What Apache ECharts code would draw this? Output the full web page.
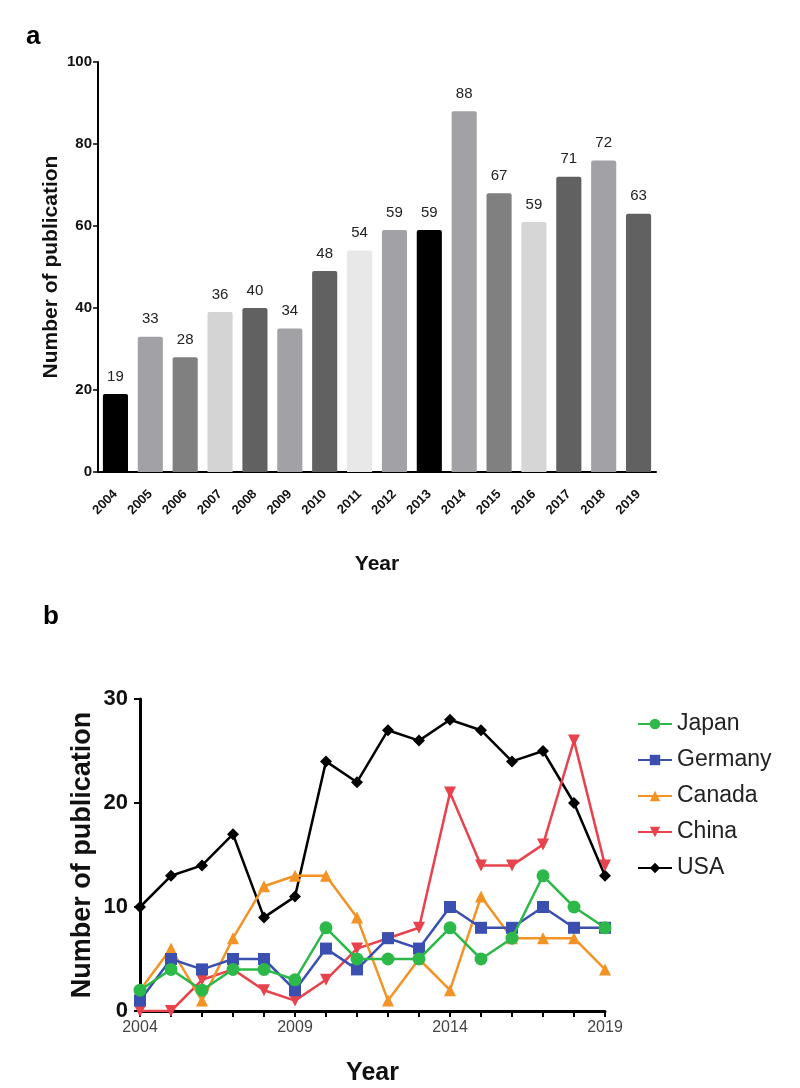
<!DOCTYPE html>
<html>
<head>
<meta charset="utf-8">
<script src="https://cdn.jsdelivr.net/npm/echarts@6/dist/echarts.min.js"></script>
<style>
html,body{margin:0;padding:0;background:#fff;}
#chart{width:800px;height:1088px;}
</style>
</head>
<body>
<div id="chart"></div>
<script>
// ---- Panel a data ----
const years = ['2004','2005','2006','2007','2008','2009','2010','2011','2012','2013','2014','2015','2016','2017','2018','2019'];
const barHeights = [19, 33, 28, 39, 40, 35, 49, 54, 59, 59, 88, 68, 61, 72, 76, 63];
const barLabels = ['19','33','28','36','40','34','48','54','59','59','88','67','59','71','72','63'];
const barColors = ['#000000','#a2a2a6','#808080','#d4d4d4','#616161','#a2a2a6','#616161','#e8e8e8','#a2a2a6','#000000','#a2a2a6','#808080','#d6d6d6','#616161','#a2a2a6','#616161'];

// ---- Panel b data ----
const lineYears = [2004,2005,2006,2007,2008,2009,2010,2011,2012,2013,2014,2015,2016,2017,2018,2019];
const japan   = [2, 4, 2, 4, 4, 3, 8, 5, 5, 5, 8, 5, 7, 13, 10, 8];
const germany = [1, 5, 4, 5, 5, 2, 6, 4, 7, 6, 10, 8, 8, 10, 8, 8];
const canada  = [2, 6, 1, 7, 12, 13, 13, 9, 1, 5, 2, 11, 7, 7, 7, 4];
const china   = [0, 0, 3, 4, 2, 1, 3, 6, 7, 8, 21, 14, 14, 16, 26, 14];
const usa     = [10, 13, 14, 17, 9, 11, 24, 22, 27, 26, 28, 27, 24, 25, 20, 13];
const countryNames = ['Japan','Germany','Canada','China','USA'];

const FONT = '"Liberation Sans", Arial, sans-serif';
const pair = arr => lineYears.map((y, i) => [y, arr[i]]);

const chart = echarts.init(document.getElementById('chart'), null, {renderer: 'canvas'});

function lineSeries(name, data, color, symbol, size, z, rot) {
  return {
    name: name, type: 'line', xAxisIndex: 1, yAxisIndex: 1,
    data: pair(data), symbol: symbol, symbolSize: size, symbolRotate: rot || 0, z: z,
    lineStyle: {color: color, width: 2.5},
    itemStyle: {color: color, borderWidth: 0},
    emphasis: {disabled: true}
  };
}

chart.setOption({
  animation: false,
  backgroundColor: '#fff',
  textStyle: {fontFamily: FONT},
  graphic: [
    {type: 'text', left: 26, top: 24, style: {text: 'a', font: 'bold 26px ' + FONT, fill: '#000'}},
    {type: 'text', left: 43, top: 604, style: {text: 'b', font: 'bold 26px ' + FONT, fill: '#000'}}
  ],
  grid: [
    {left: 98, right: 144, top: 62, height: 410},
    {left: 140, right: 195, top: 699, height: 312}
  ],
  legend: {
    data: countryNames,
    orient: 'vertical',
    left: 632, top: 707,
    itemWidth: 34, itemHeight: 13, itemGap: 12,
    textStyle: {fontFamily: FONT, fontSize: 23, color: '#222', lineHeight: 24},
    selectedMode: false
  },
  xAxis: [
    {
      gridIndex: 0, type: 'category', data: years,
      axisLine: {lineStyle: {color: '#000', width: 2}},
      axisTick: {alignWithLabel: true, length: 5, lineStyle: {color: '#000', width: 1.5}},
      axisLabel: {rotate: 45, fontFamily: FONT, fontWeight: 'bold', fontSize: 13, color: '#111', margin: 20, interval: 0},
      name: 'Year', nameLocation: 'middle', nameGap: 82, nameMoveOverlap: false,
      nameTextStyle: {fontFamily: FONT, fontWeight: 'bold', fontSize: 21, color: '#111'}
    },
    {
      gridIndex: 1, type: 'value', min: 2004, max: 2019, interval: 1,
      axisLine: {lineStyle: {color: '#000', width: 3}},
      axisTick: {length: 6, lineStyle: {color: '#000', width: 2}},
      axisLabel: {
        fontFamily: FONT, fontSize: 16, color: '#444', margin: 9,
        formatter: v => ((v - 2004) % 5 === 0 ? String(v) : '')
      },
      splitLine: {show: false},
      name: 'Year', nameLocation: 'middle', nameGap: 50, nameMoveOverlap: false,
      nameTextStyle: {fontFamily: FONT, fontWeight: 'bold', fontSize: 25, color: '#111'}
    }
  ],
  yAxis: [
    {
      gridIndex: 0, type: 'value', min: 0, max: 100, interval: 20,
      axisLine: {show: true, lineStyle: {color: '#000', width: 2}},
      axisTick: {show: true, length: 5, lineStyle: {color: '#000', width: 1.5}},
      axisLabel: {fontFamily: FONT, fontWeight: 'bold', fontSize: 15, color: '#111', margin: 6},
      splitLine: {show: false},
      name: 'Number of publication', nameLocation: 'middle', nameGap: 36, nameMoveOverlap: false,
      nameTextStyle: {fontFamily: FONT, fontWeight: 'bold', fontSize: 21, color: '#111'}
    },
    {
      gridIndex: 1, type: 'value', min: 0, max: 30, interval: 10,
      axisLine: {show: true, lineStyle: {color: '#000', width: 3}},
      axisTick: {show: true, length: 6, lineStyle: {color: '#000', width: 2}},
      axisLabel: {fontFamily: FONT, fontWeight: 'bold', fontSize: 22, color: '#111', margin: 12},
      splitLine: {show: false},
      name: 'Number of publication', nameLocation: 'middle', nameGap: 44, nameMoveOverlap: false,
      nameTextStyle: {fontFamily: FONT, fontWeight: 'bold', fontSize: 27, color: '#111'}
    }
  ],
  series: [
    {
      type: 'bar', xAxisIndex: 0, yAxisIndex: 0,
      barWidth: '72%',
      data: barHeights.map((v, i) => ({value: v, itemStyle: {color: barColors[i], borderRadius: [2, 2, 0, 0]}})),
      label: {
        show: true, position: 'top', distance: 10,
        fontFamily: FONT, fontSize: 15, color: '#222',
        formatter: p => barLabels[p.dataIndex]
      },
      emphasis: {disabled: true}
    },
    lineSeries('USA', usa, '#000000', 'diamond', 12, 2),
    lineSeries('China', china, '#e8434c', 'triangle', 12, 3, 180),
    lineSeries('Canada', canada, '#f39325', 'triangle', 12, 4),
    lineSeries('Germany', germany, '#3a4fb0', 'rect', 12, 5),
    lineSeries('Japan', japan, '#2db84a', 'circle', 13, 6)
  ]
});
</script>
</body>
</html>
